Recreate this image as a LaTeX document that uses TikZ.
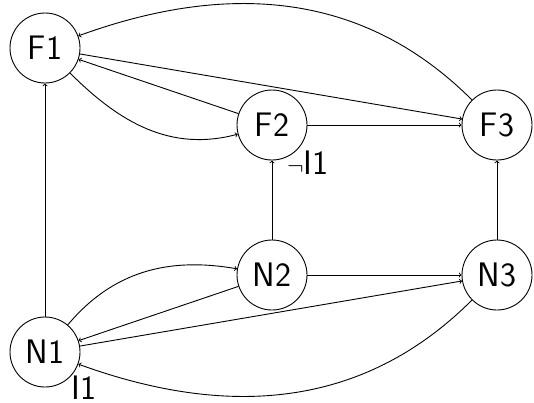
\documentclass[tikz,border=0pt]{standalone}
\usetikzlibrary{arrows}
\begin{document}
\begin{tikzpicture}[x=1pt,y=1pt,
  state/.style={circle,draw,line width=0.9pt,minimum size=70pt,inner sep=0pt,font=\sffamily\fontsize{34}{40}\selectfont},
  edge/.style={->,line width=0.9pt,>=to},
  lab/.style={font=\sffamily\fontsize{34}{40}\selectfont,inner sep=0pt}]
\useasboundingbox (0,0) rectangle (534,-402);
\node[state] (F1) at (45,-48) {F1};
\node[state] (F2) at (272,-125) {F2};
\node[state] (F3) at (497,-125) {F3};
\node[state] (N1) at (45,-352) {N1};
\node[state] (N2) at (272,-275) {N2};
\node[state] (N3) at (497,-275) {N3};
\draw[edge] (N1) -- (F1);
\draw[edge] (F1) to[out=-45,in=195] (F2);
\draw[edge] (F2) -- (F1);
\draw[edge] (F1) -- (F3);
\draw[edge] (F3) to[out=135,in=20] (F1);
\draw[edge] (F2) -- (F3);
\draw[edge] (N2) -- (F2);
\draw[edge] (N3) -- (F3);
\draw[edge] (N1) to[out=50,in=170] (N2);
\draw[edge] (N2) -- (N1);
\draw[edge] (N2) -- (N3);
\draw[edge] (N1) -- (N3);
\draw[edge] (N3) to[out=225,in=-20] (N1);
\node[lab,anchor=base west] (l1) at (287,-174) {$\neg$I1};
\node[lab,anchor=base west] (l2) at (71,-399) {I1};
\end{tikzpicture}
\end{document}
